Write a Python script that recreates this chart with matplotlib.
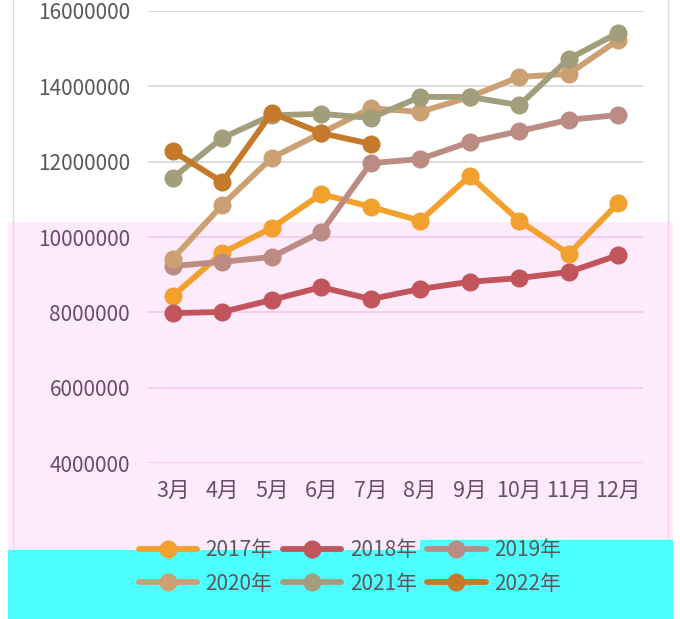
import numpy as np
import matplotlib
matplotlib.use("Agg")
import matplotlib.pyplot as plt
from matplotlib.patches import Rectangle
from matplotlib.lines import Line2D

plt.rcParams['font.family'] = ['Noto Sans CJK SC', 'DejaVu Sans']

months = ["3月", "4月", "5月", "6月", "7月", "8月", "9月", "10月", "11月", "12月"]
y2017 = [8430000, 9580000, 10240000, 11140000, 10800000, 10430000, 11620000, 10430000, 9550000, 10900000]
y2018 = [7980000, 8010000, 8330000, 8670000, 8350000, 8620000, 8810000, 8910000, 9070000, 9520000]
y2019 = [9230000, 9340000, 9470000, 10130000, 11960000, 12070000, 12520000, 12810000, 13110000, 13240000]
y2020 = [9420000, 10850000, 12100000, 12760000, 13420000, 13320000, 13720000, 14250000, 14330000, 15230000]
y2021 = [11570000, 12630000, 13230000, 13270000, 13160000, 13720000, 13720000, 13500000, 14730000, 15420000]
y2022 = [12280000, 11460000, 13290000, 12760000, 12470000]
labels = ["2017年", "2018年", "2019年", "2020年", "2021年", "2022年"]
yticks = [4000000, 6000000, 8000000, 10000000, 12000000, 14000000, 16000000]

colors = ["#F2A12F", "#C2555C", "#BC8C84", "#CBA173", "#A29D7A", "#C47A2A"]
series = [y2017, y2018, y2019, y2020, y2021, y2022]

W, H = 680, 619
fig = plt.figure(figsize=(6.8, 6.19), dpi=100)

# pink tinted band and cyan block seen in the reference
fig.add_artist(Rectangle((8 / W, 0), 665 / W, (H - 222) / H, transform=fig.transFigure,
                         facecolor="#FDEBFC", edgecolor="none", zorder=-2))
fig.add_artist(Rectangle((8 / W, 0), 665 / W, (H - 550) / H, transform=fig.transFigure,
                         facecolor="#4DFFFF", edgecolor="none", zorder=1))
fig.add_artist(Rectangle((420 / W, 0), 253 / W, (H - 540) / H, transform=fig.transFigure,
                         facecolor="#4DFFFF", edgecolor="none", zorder=1))
# chart border
for xb in (13, 668):
    fig.add_artist(Line2D([xb / W, xb / W], [(H - 222) / H, 1], transform=fig.transFigure,
                          color="#D9D9D9", lw=1, zorder=-1))
    fig.add_artist(Line2D([xb / W, xb / W], [0, (H - 222) / H], transform=fig.transFigure,
                          color="#F6CDEF", lw=1, zorder=-1))

ax = fig.add_axes([148 / W, (H - 463) / H, 495 / W, 452 / H])
ax.set_facecolor("none")
x = np.arange(len(months))

for v in yticks:
    gc = "#D9D9D9" if v >= 12000000 else "#F5CBEE"
    ax.axhline(v, color=gc, lw=1.3, zorder=0)

handles = []
for vals, c, lab in zip(series, colors, labels):
    h, = ax.plot(x[:len(vals)], vals, color=c, lw=4.2, marker="o", markersize=12,
                 label=lab, solid_capstyle="round", zorder=3)
    handles.append(h)

ax.set_xlim(-0.5, 9.5)
ax.set_ylim(4000000, 16000000)
ax.set_yticks(yticks)
ax.set_yticklabels([str(v) for v in yticks], fontsize=15)
ax.set_xticks(x)
ax.set_xticklabels(months, fontsize=15.5, color="#6B4C6B")
for t, v in zip(ax.get_yticklabels(), yticks):
    t.set_color("#595959" if v >= 12000000 else "#6B4C6B")
ax.tick_params(length=0)
ax.tick_params(axis="y", pad=13)
ax.tick_params(axis="x", pad=12)
for s in ax.spines.values():
    s.set_visible(False)

# legend rows: 2017 2018 2019 / 2020 2021 2022
order = [0, 3, 1, 4, 2, 5]
leg = fig.legend(handles=[handles[i] for i in order], labels=[labels[i] for i in order],
                 ncol=3, loc="center", bbox_to_anchor=(350 / W, 1 - 567 / H), frameon=False,
                 fontsize=15, handlelength=2.8, columnspacing=0.5, labelspacing=0.55,
                 handletextpad=0.4)
for t in leg.get_texts():
    t.set_color("#595959")
leg.set_zorder(5)

fig.savefig("out.png", dpi=100)
